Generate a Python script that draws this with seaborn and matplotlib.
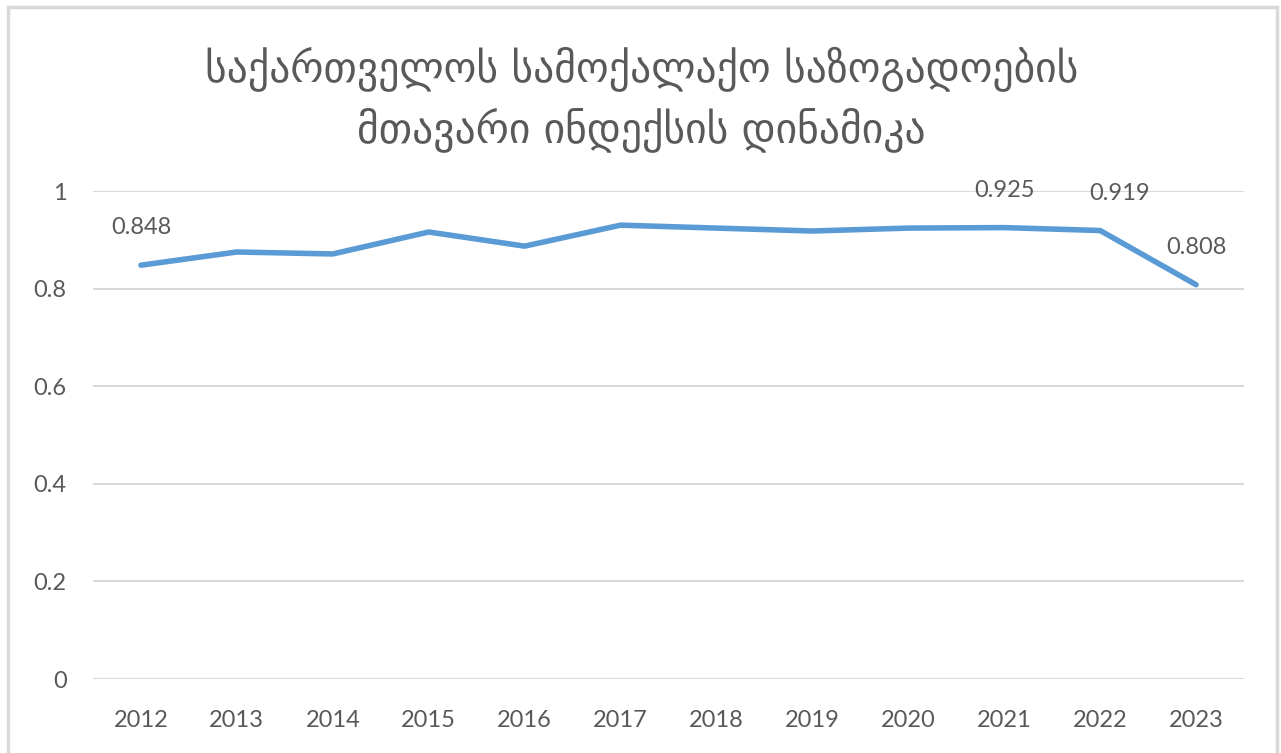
import pandas as pd
import matplotlib.pyplot as plt
import seaborn as sns
from matplotlib.patches import Rectangle

# data
years = [2012, 2013, 2014, 2015, 2016, 2017, 2018, 2019, 2020, 2021, 2022, 2023]
index_values = [0.848, 0.875, 0.871, 0.916, 0.887, 0.930, 0.924, 0.918, 0.924, 0.925, 0.919, 0.808]
labelled_years = [2012, 2021, 2022, 2023]
title_text = "საქართველოს სამოქალაქო საზოგადოების\nმთავარი ინდექსის დინამიკა"

df = pd.DataFrame({'year': years, 'value': index_values})

sns.set_style('white')
plt.rcParams['font.family'] = ['Lato', 'DejaVu Sans']

text_color = '#595959'
grid_color = '#D9D9D9'
line_color = '#5B9BD5'

fig = plt.figure(figsize=(12.81, 7.53), dpi=100)
ax = fig.add_axes([93 / 1281, 74 / 753, (1244 - 93) / 1281, (679 - 191) / 753])

sns.lineplot(x='year', y='value', data=df, ax=ax, color=line_color, linewidth=4,
             solid_capstyle='round', solid_joinstyle='round', zorder=3)

ax.set_xlim(years[0] - 0.5, years[-1] + 0.5)
ax.set_ylim(0, 1)
ax.set_xticks(years)
ax.set_xticklabels([str(y) for y in years])
ax.set_yticks([0, 0.2, 0.4, 0.6, 0.8, 1.0])
ax.set_yticklabels(['0', '0.2', '0.4', '0.6', '0.8', '1'])
ax.yaxis.grid(True, color=grid_color, linewidth=1.5)
ax.set_axisbelow(True)
for s in ax.spines.values():
    s.set_visible(False)
ax.tick_params(axis='both', length=0, labelsize=17, colors=text_color)
ax.tick_params(axis='y', pad=19)
ax.tick_params(axis='x', pad=22)
ax.set_xlabel('')
ax.set_ylabel('')

# data labels
for y, v in zip(years, index_values):
    if y in labelled_years:
        dx = 14 if y == 2022 else 0
        ax.annotate(f'{v:.3f}', (y, v), xytext=(dx, 27), textcoords='offset points',
                    ha='center', va='center', fontsize=17, color=text_color)

fig.text(0.501, 0.868, title_text, ha='center', va='center', fontsize=30,
         color=text_color, family=['DejaVu Sans'], linespacing=1.45)

# light frame around the chart area
fig.patches.append(Rectangle((8 / 1281, -0.02), (1277 - 8) / 1281, (753 - 7) / 753 + 0.02,
                             transform=fig.transFigure, fill=False,
                             edgecolor=grid_color, linewidth=2.5))

fig.savefig('out.png', dpi=100)
